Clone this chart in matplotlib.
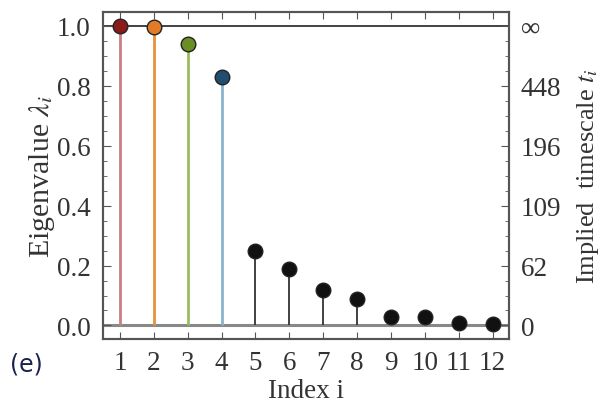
import matplotlib
matplotlib.use("Agg")
import matplotlib.pyplot as plt
from matplotlib.ticker import MultipleLocator

index = [1, 2, 3, 4, 5, 6, 7, 8, 9, 10, 11, 12]
eigenvalues = [1.0, 0.995, 0.939, 0.829, 0.247, 0.187, 0.117, 0.090, 0.029, 0.028, 0.007, 0.006]
marker_colors = ["#8b1a1a", "#e07b27", "#6b8e23", "#1f4e6e"] + ["#111111"] * 8
stem_colors = ["#c98080", "#e8903a", "#9bbb5c", "#8ab4cc"] + ["#333333"] * 8
left_ticks = [0.0, 0.2, 0.4, 0.6, 0.8, 1.0]
left_labels = ["0.0", "0.2", "0.4", "0.6", "0.8", "1.0"]
right_labels = ["0", "62", "109", "196", "448", "\u221e"]

plt.rcParams['font.family'] = ['Liberation Serif', 'DejaVu Serif']
plt.rcParams['mathtext.fontset'] = 'stix'
plt.rcParams['text.color'] = '#333333'
plt.rcParams['axes.labelcolor'] = '#333333'
plt.rcParams['xtick.labelcolor'] = '#333333'
plt.rcParams['ytick.labelcolor'] = '#333333'

FS = 19.5

fig = plt.figure(figsize=(6.04, 4.06), dpi=100)
ax = fig.add_axes([0.1705, 0.1626, 0.673, 0.805])
ax.set_xlim(0.5, 12.5)
ax.set_ylim(-0.045, 1.045)

ax.axhline(1.0, color="#222222", lw=1.2, zorder=1)
ax.axhline(0.0, color="#888888", lw=2.2, zorder=1)

for x, y, mc, sc in zip(index, eigenvalues, marker_colors, stem_colors):
    ax.vlines(x, 0, y, color=sc, lw=2.0 if x <= 4 else 1.3, zorder=2)
    ax.plot([x], [y], 'o', ms=10.5, mfc=mc, mec="#222222", mew=1.0, zorder=3)

ax.set_xticks(index)
ax.set_xticklabels([str(i) for i in index])
ax.set_yticks(left_ticks)
ax.set_yticklabels(left_labels)
ax.yaxis.set_minor_locator(MultipleLocator(0.05))
ax.tick_params(axis='both', which='both', direction='in', labelsize=FS, color="#555555")
ax.tick_params(axis='x', which='both', top=True, length=5, pad=8)
ax.tick_params(axis='y', which='major', length=6, pad=9)
ax.tick_params(axis='y', which='minor', length=3)
for s in ax.spines.values():
    s.set_color("#555555")
    s.set_linewidth(1.5)

ax.set_xlabel("Index i", fontsize=FS, labelpad=2)
ax.set_ylabel(r"Eigenvalue $\lambda_i$", fontsize=21.5, labelpad=0)

ax2 = ax.twinx()
ax2.set_ylim(ax.get_ylim())
ax2.set_yticks(left_ticks)
ax2.set_yticklabels(right_labels)
ax2.yaxis.set_minor_locator(MultipleLocator(0.05))
ax2.tick_params(axis='y', which='both', direction='in', labelsize=FS, color="#555555")
ax2.tick_params(axis='y', which='major', length=6, pad=8)
ax2.tick_params(axis='y', which='minor', length=3)
for s in ax2.spines.values():
    s.set_color("#555555")
    s.set_linewidth(1.5)
ax2.set_ylabel(r"Implied  timescale $t_i$", fontsize=19, labelpad=10)

fig.text(0.017, 0.085, "(e)", fontsize=17, family=["DejaVu Sans"], color="#1a2050")

fig.savefig("out.png", dpi=100)
